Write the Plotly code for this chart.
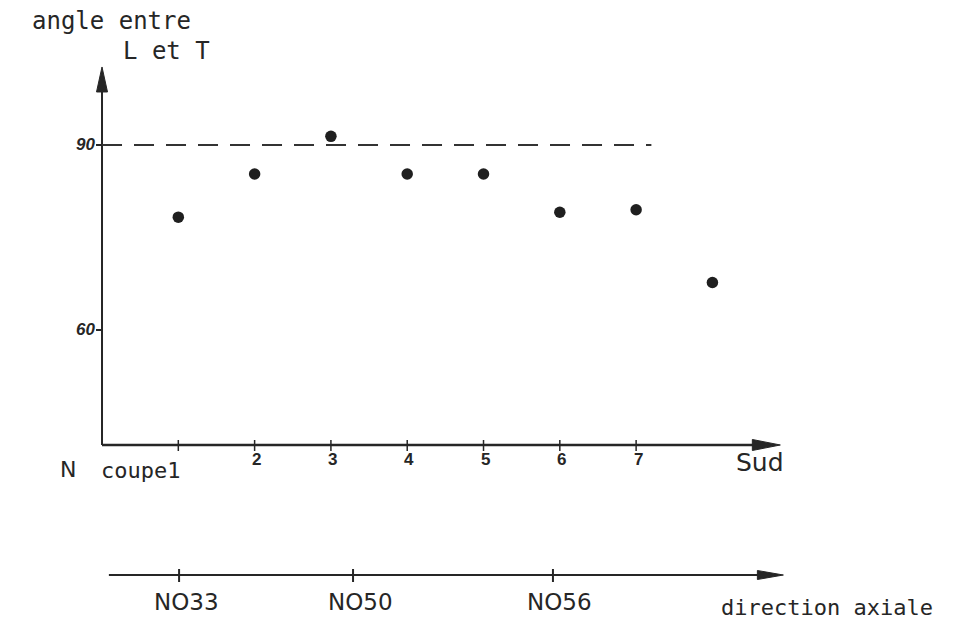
import plotly.graph_objects as go

# ---- data -------------------------------------------------------------
coupes = [1, 2, 3, 4, 5, 6, 7, 8]
angles = [78.3, 85.3, 91.4, 85.3, 85.3, 79.1, 79.5, 67.7]
coupe_labels = ["coupe1", "2", "3", "4", "5", "6", "7"]
y_tick_vals = [90, 60]
ref_angle = 90
axial_pos = [1.01, 3.29, 5.91]
axial_labels = ["NO33", "NO50", "NO56"]

# ---- canvas / scales ----------------------------------------------------
W, H = 971, 629
X_RANGE = [-1.337, 11.389]
Y_RANGE = [11.51, 113.51]
SX = (X_RANGE[1] - X_RANGE[0]) / W   # data units per pixel (x)
SY = (Y_RANGE[1] - Y_RANGE[0]) / H   # data units per pixel (y)

Y_FLOOR = 41.35      # where the horizontal axis crosses
X_END = 8.89         # tip of horizontal axis arrow
Y_TOP = 102.65       # tip of vertical axis arrow
REF_END = 7.2        # end of the dashed 90 deg line
AXIAL_Y = 1 - 575 / H   # paper position of the axial-direction axis
AXIAL_START, AXIAL_END = 0.09, 8.93

INK = "#262626"
SANS = "DejaVu Sans"
MONO = "DejaVu Sans Mono"
BOLD = "Liberation Sans"


def px(x):
    return x / W


def py(y):
    return 1 - y / H


fig = go.Figure()

fig.add_trace(go.Scatter(
    x=coupes, y=angles, mode="markers",
    marker=dict(size=11.5, color="#1f1f1f", line=dict(width=0)),
    hoverinfo="x+y", showlegend=False,
))

shapes = []
ann = []

# vertical axis with arrow
shapes.append(dict(type="line", xref="x", yref="y", x0=0, x1=0,
                   y0=Y_FLOOR, y1=Y_TOP - 10 * SY,
                   line=dict(color=INK, width=2)))
shapes.append(dict(type="path", xref="x", yref="y",
                   path=f"M {0},{Y_TOP} L {-5.5 * SX},{Y_TOP - 25 * SY} "
                        f"L {5.5 * SX},{Y_TOP - 25 * SY} Z",
                   fillcolor=INK, line=dict(color=INK, width=1)))

# horizontal axis with arrow
shapes.append(dict(type="line", xref="x", yref="y", x0=0, x1=X_END - 10 * SX,
                   y0=Y_FLOOR, y1=Y_FLOOR,
                   line=dict(color=INK, width=2.6)))
shapes.append(dict(type="path", xref="x", yref="y",
                   path=f"M {X_END},{Y_FLOOR} L {X_END - 28 * SX},{Y_FLOOR + 5.5 * SY} "
                        f"L {X_END - 28 * SX},{Y_FLOOR - 5.5 * SY} Z",
                   fillcolor=INK, line=dict(color=INK, width=1)))

# dashed reference at 90 deg
shapes.append(dict(type="line", xref="x", yref="y", x0=0, x1=REF_END,
                   y0=ref_angle, y1=ref_angle,
                   line=dict(color="#333333", width=2.2, dash="20px,12px")))

# y ticks and their labels
for v in y_tick_vals:
    shapes.append(dict(type="line", xref="x", yref="y", x0=-6 * SX, x1=0,
                       y0=v, y1=v, line=dict(color=INK, width=2)))
    ann.append(dict(x=-5 * SX, y=v, xref="x", yref="y", text=f"<b><i>{v}</i></b>",
                    showarrow=False, xanchor="right", yanchor="middle",
                    font=dict(family=BOLD, size=17, color=INK)))

# x ticks and section numbers
for i, lab in enumerate(coupe_labels):
    c = i + 1
    shapes.append(dict(type="line", xref="x", yref="y", x0=c, x1=c,
                       y0=Y_FLOOR - 6 * SY, y1=Y_FLOOR + 5 * SY,
                       line=dict(color=INK, width=1.5)))
    if lab.startswith("coupe"):
        ann.append(dict(x=c, y=py(470), xref="x", yref="paper", text=lab,
                        showarrow=False, xanchor="right", yanchor="middle",
                        xshift=4, font=dict(family=MONO, size=22, color=INK)))
    else:
        ann.append(dict(x=c, y=py(459), xref="x", yref="paper", text=f"<b>{lab}</b>",
                        showarrow=False, xanchor="center", yanchor="middle",
                        xshift=2, font=dict(family=BOLD, size=17, color=INK)))

# axial direction axis (bottom)
shapes.append(dict(type="line", xref="x", yref="paper", x0=AXIAL_START,
                   x1=AXIAL_END - 10 * SX, y0=AXIAL_Y, y1=AXIAL_Y,
                   line=dict(color=INK, width=2.2)))
shapes.append(dict(type="path", xref="x", yref="paper",
                   path=f"M {AXIAL_END},{AXIAL_Y} L {AXIAL_END - 26 * SX},{AXIAL_Y + 4.5 / H} "
                        f"L {AXIAL_END - 26 * SX},{AXIAL_Y - 4.5 / H} Z",
                   fillcolor=INK, line=dict(color=INK, width=1)))
for pos, lab in zip(axial_pos, axial_labels):
    shapes.append(dict(type="line", xref="x", yref="paper", x0=pos, x1=pos,
                       y0=AXIAL_Y - 7 / H, y1=AXIAL_Y + 6 / H,
                       line=dict(color=INK, width=2)))
    ann.append(dict(x=pos, y=py(602), xref="x", yref="paper", text=lab,
                    showarrow=False, xanchor="center", yanchor="middle", xshift=7,
                    font=dict(family=SANS, size=23, color=INK)))

# free labels
ann += [
    dict(x=px(30), y=py(21), text="angle entre", xanchor="left",
         font=dict(family=MONO, size=24, color=INK)),
    dict(x=px(121), y=py(51), text="L et T", xanchor="left",
         font=dict(family=MONO, size=24, color=INK)),
    dict(x=px(58), y=py(469), text="N", xanchor="left",
         font=dict(family=SANS, size=22, color=INK)),
    dict(x=px(734), y=py(462), text="Sud", xanchor="left",
         font=dict(family=SANS, size=25, color=INK)),
    dict(x=px(719), y=py(607), text="direction axiale", xanchor="left",
         font=dict(family=MONO, size=22, color=INK)),
]
for a in ann:
    a.setdefault("xref", "paper")
    a.setdefault("yref", "paper")
    a.setdefault("showarrow", False)
    a.setdefault("yanchor", "middle")

fig.update_layout(
    width=W, height=H,
    margin=dict(l=0, r=0, t=0, b=0),
    paper_bgcolor="white", plot_bgcolor="white",
    xaxis=dict(range=X_RANGE, visible=False, fixedrange=True),
    yaxis=dict(range=Y_RANGE, visible=False, fixedrange=True),
    shapes=shapes, annotations=ann,
    showlegend=False,
)

fig.write_html("out.html")
